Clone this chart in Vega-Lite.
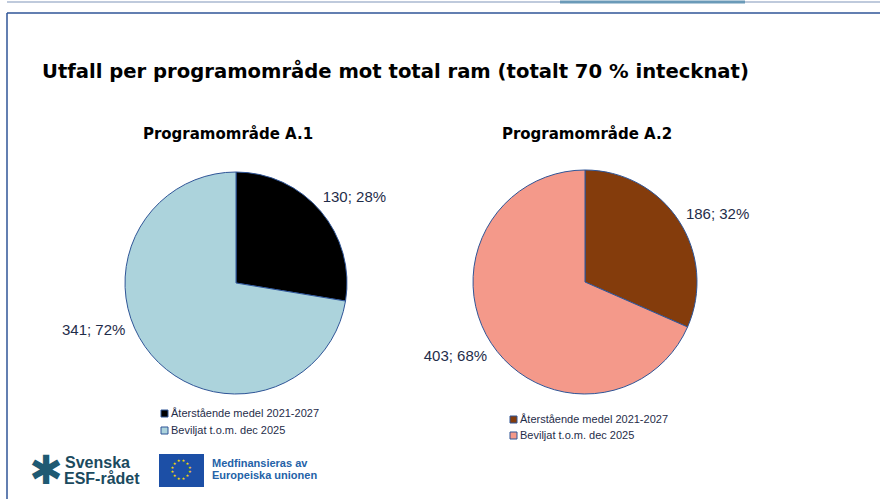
{
  "$schema": "https://vega.github.io/schema/vega-lite/v6.json",
  "width": 880,
  "height": 499,
  "autosize": {"type": "fit", "contains": "padding"},
  "padding": 0,
  "background": "white",
  "config": {"view": {"stroke": null}},
  "datasets": {
    "pies": [
      {"omrade": "A.1", "kategori": "Återstående medel 2021-2027", "value": 130, "pct": 28},
      {"omrade": "A.1", "kategori": "Beviljat t.o.m. dec 2025", "value": 341, "pct": 72},
      {"omrade": "A.2", "kategori": "Återstående medel 2021-2027", "value": 186, "pct": 32},
      {"omrade": "A.2", "kategori": "Beviljat t.o.m. dec 2025", "value": 403, "pct": 68}
    ],
    "stars": [{"s": 1}, {"s": 1}, {"s": 1}, {"s": 1}, {"s": 1}, {"s": 1}, {"s": 1}, {"s": 1}, {"s": 1}, {"s": 1}, {"s": 1}, {"s": 1}]
  },
  "layer": [
    {
      "data": {"values": [{}]},
      "mark": {"type": "rule", "color": "#aab8d0", "strokeWidth": 1.5},
      "encoding": {"x": {"value": 7}, "x2": {"value": 880}, "y": {"value": 1}}
    },
    {
      "data": {"values": [{}]},
      "mark": {"type": "rule", "color": "#6a9ab8", "strokeWidth": 3},
      "encoding": {"x": {"value": 560}, "x2": {"value": 745}, "y": {"value": 1}}
    },
    {
      "data": {"values": [{}]},
      "mark": {"type": "rule", "color": "#2f5597", "strokeWidth": 1.5},
      "encoding": {"x": {"value": 7}, "x2": {"value": 880}, "y": {"value": 12}}
    },
    {
      "data": {"values": [{}]},
      "mark": {"type": "rule", "color": "#2f5597", "strokeWidth": 1.5},
      "encoding": {"x": {"value": 7}, "y": {"value": 12}, "y2": {"value": 499}}
    },
    {
      "data": {"values": [{}]},
      "mark": {"type": "text", "text": "Utfall per programområde mot total ram (totalt 70 % intecknat)", "align": "left", "baseline": "alphabetic", "font": "DejaVu Sans", "fontWeight": "bold", "fontSize": 19.6, "color": "#000000"},
      "encoding": {"x": {"value": 42}, "y": {"value": 77}}
    },
    {
      "data": {"values": [{}]},
      "mark": {"type": "text", "text": "Programområde A.1", "align": "center", "baseline": "alphabetic", "font": "DejaVu Sans", "fontWeight": "bold", "fontSize": 15, "color": "#000000"},
      "encoding": {"x": {"value": 228}, "y": {"value": 138}}
    },
    {
      "data": {"values": [{}]},
      "mark": {"type": "text", "text": "Programområde A.2", "align": "center", "baseline": "alphabetic", "font": "DejaVu Sans", "fontWeight": "bold", "fontSize": 15, "color": "#000000"},
      "encoding": {"x": {"value": 587}, "y": {"value": 138}}
    },
    {
      "data": {"name": "pies"},
      "transform": [{"filter": "datum.omrade == 'A.1'"}],
      "mark": {"type": "arc", "outerRadius": 111, "stroke": "#2f5597", "strokeWidth": 1},
      "encoding": {
        "theta": {"field": "value", "type": "quantitative", "stack": true},
        "order": {"field": "kategori", "type": "nominal", "sort": "descending"},
        "color": {
          "field": "kategori", "type": "nominal",
          "scale": {"domain": ["Återstående medel 2021-2027", "Beviljat t.o.m. dec 2025"], "range": ["#000000", "#acd3dc"]},
          "legend": {"orient": "none", "legendX": 159, "legendY": 407, "title": null, "direction": "vertical", "symbolType": "square", "symbolSize": 49, "symbolStrokeColor": "#2f5597", "symbolStrokeWidth": 1, "labelFont": "Liberation Sans", "labelFontSize": 11, "labelColor": "#1f2d4a", "rowPadding": 5, "labelOffset": 1, "padding": 0, "symbolOffset": 0}
        },
        "x": {"value": 236},
        "y": {"value": 282}
      }
    },
    {
      "data": {"name": "pies"},
      "transform": [{"filter": "datum.omrade == 'A.2'"}],
      "mark": {"type": "arc", "outerRadius": 112, "stroke": "#2f5597", "strokeWidth": 1},
      "encoding": {
        "theta": {"field": "value", "type": "quantitative", "stack": true},
        "order": {"field": "kategori", "type": "nominal", "sort": "descending"},
        "color": {
          "field": "kategori", "type": "nominal",
          "scale": {"domain": ["Återstående medel 2021-2027", "Beviljat t.o.m. dec 2025"], "range": ["#843c0c", "#f4998a"]},
          "legend": {"orient": "none", "legendX": 508, "legendY": 413, "title": null, "direction": "vertical", "symbolType": "square", "symbolSize": 49, "symbolStrokeColor": "#2f5597", "symbolStrokeWidth": 1, "labelFont": "Liberation Sans", "labelFontSize": 11, "labelColor": "#1f2d4a", "rowPadding": 4, "labelOffset": 1, "padding": 0, "symbolOffset": 0}
        },
        "x": {"value": 585},
        "y": {"value": 281}
      }
    },
    {
      "data": {"name": "pies"},
      "transform": [{"filter": "datum.omrade == 'A.1'"}, {"calculate": "datum.value + '; ' + datum.pct + '%'", "as": "label"}],
      "mark": {"type": "text", "radius": 150, "dx": 4, "dy": 11, "font": "Liberation Sans", "fontSize": 15, "color": "#1f2d4a"},
      "encoding": {
        "theta": {"field": "value", "type": "quantitative", "stack": true},
        "order": {"field": "kategori", "type": "nominal", "sort": "descending"},
        "text": {"field": "label"},
        "opacity": {"condition": {"test": "datum.kategori == 'Beviljat t.o.m. dec 2025'", "value": 0}, "value": 1},
        "x": {"value": 236},
        "y": {"value": 282}
      }
    },
    {
      "data": {"name": "pies"},
      "transform": [{"filter": "datum.omrade == 'A.1'"}, {"calculate": "datum.value + '; ' + datum.pct + '%'", "as": "label"}],
      "mark": {"type": "text", "radius": 150, "dx": -28, "dy": -50, "font": "Liberation Sans", "fontSize": 15, "color": "#1f2d4a"},
      "encoding": {
        "theta": {"field": "value", "type": "quantitative", "stack": true},
        "order": {"field": "kategori", "type": "nominal", "sort": "descending"},
        "text": {"field": "label"},
        "opacity": {"condition": {"test": "datum.kategori == 'Beviljat t.o.m. dec 2025'", "value": 1}, "value": 0},
        "x": {"value": 236},
        "y": {"value": 282}
      }
    },
    {
      "data": {"name": "pies"},
      "transform": [{"filter": "datum.omrade == 'A.2'"}, {"calculate": "datum.value + '; ' + datum.pct + '%'", "as": "label"}],
      "mark": {"type": "text", "radius": 150, "dx": 7, "dy": 14, "font": "Liberation Sans", "fontSize": 15, "color": "#1f2d4a"},
      "encoding": {
        "theta": {"field": "value", "type": "quantitative", "stack": true},
        "order": {"field": "kategori", "type": "nominal", "sort": "descending"},
        "text": {"field": "label"},
        "opacity": {"condition": {"test": "datum.kategori == 'Beviljat t.o.m. dec 2025'", "value": 0}, "value": 1},
        "x": {"value": 585},
        "y": {"value": 281}
      }
    },
    {
      "data": {"name": "pies"},
      "transform": [{"filter": "datum.omrade == 'A.2'"}, {"calculate": "datum.value + '; ' + datum.pct + '%'", "as": "label"}],
      "mark": {"type": "text", "radius": 150, "dx": -4, "dy": -8, "font": "Liberation Sans", "fontSize": 15, "color": "#1f2d4a"},
      "encoding": {
        "theta": {"field": "value", "type": "quantitative", "stack": true},
        "order": {"field": "kategori", "type": "nominal", "sort": "descending"},
        "text": {"field": "label"},
        "opacity": {"condition": {"test": "datum.kategori == 'Beviljat t.o.m. dec 2025'", "value": 1}, "value": 0},
        "x": {"value": 585},
        "y": {"value": 281}
      }
    },
    {
      "data": {"values": [{}]},
      "mark": {"type": "text", "text": "✱", "align": "center", "baseline": "middle", "font": "DejaVu Sans", "fontSize": 40, "color": "#1f5a73"},
      "encoding": {"x": {"value": 46}, "y": {"value": 471}}
    },
    {
      "data": {"values": [{}]},
      "mark": {"type": "text", "text": "Svenska", "align": "left", "baseline": "alphabetic", "font": "Liberation Sans", "fontWeight": "bold", "fontSize": 16, "color": "#1b4a5e"},
      "encoding": {"x": {"value": 65}, "y": {"value": 467}}
    },
    {
      "data": {"values": [{}]},
      "mark": {"type": "text", "text": "ESF-rådet", "align": "left", "baseline": "alphabetic", "font": "Liberation Sans", "fontWeight": "bold", "fontSize": 16, "color": "#1b4a5e"},
      "encoding": {"x": {"value": 64}, "y": {"value": 483}}
    },
    {
      "data": {"values": [{}]},
      "mark": {"type": "rect", "color": "#1c4fa6"},
      "encoding": {"x": {"value": 159}, "x2": {"value": 204}, "y": {"value": 453}, "y2": {"value": 486}}
    },
    {
      "data": {"name": "stars"},
      "mark": {"type": "text", "text": "★", "radius": 9, "fontSize": 4, "color": "#ffdd00", "font": "DejaVu Sans"},
      "encoding": {
        "theta": {"field": "s", "type": "quantitative", "stack": true},
        "x": {"value": 181},
        "y": {"value": 469}
      }
    },
    {
      "data": {"values": [{}]},
      "mark": {"type": "text", "text": "Medfinansieras av", "align": "left", "baseline": "alphabetic", "font": "Liberation Sans", "fontWeight": "bold", "fontSize": 11, "color": "#2462a8"},
      "encoding": {"x": {"value": 212}, "y": {"value": 466}}
    },
    {
      "data": {"values": [{}]},
      "mark": {"type": "text", "text": "Europeiska unionen", "align": "left", "baseline": "alphabetic", "font": "Liberation Sans", "fontWeight": "bold", "fontSize": 11, "color": "#2462a8"},
      "encoding": {"x": {"value": 212}, "y": {"value": 478}}
    }
  ],
  "resolve": {
    "scale": {"color": "independent", "theta": "independent", "opacity": "independent"},
    "legend": {"color": "independent"}
  }
}
